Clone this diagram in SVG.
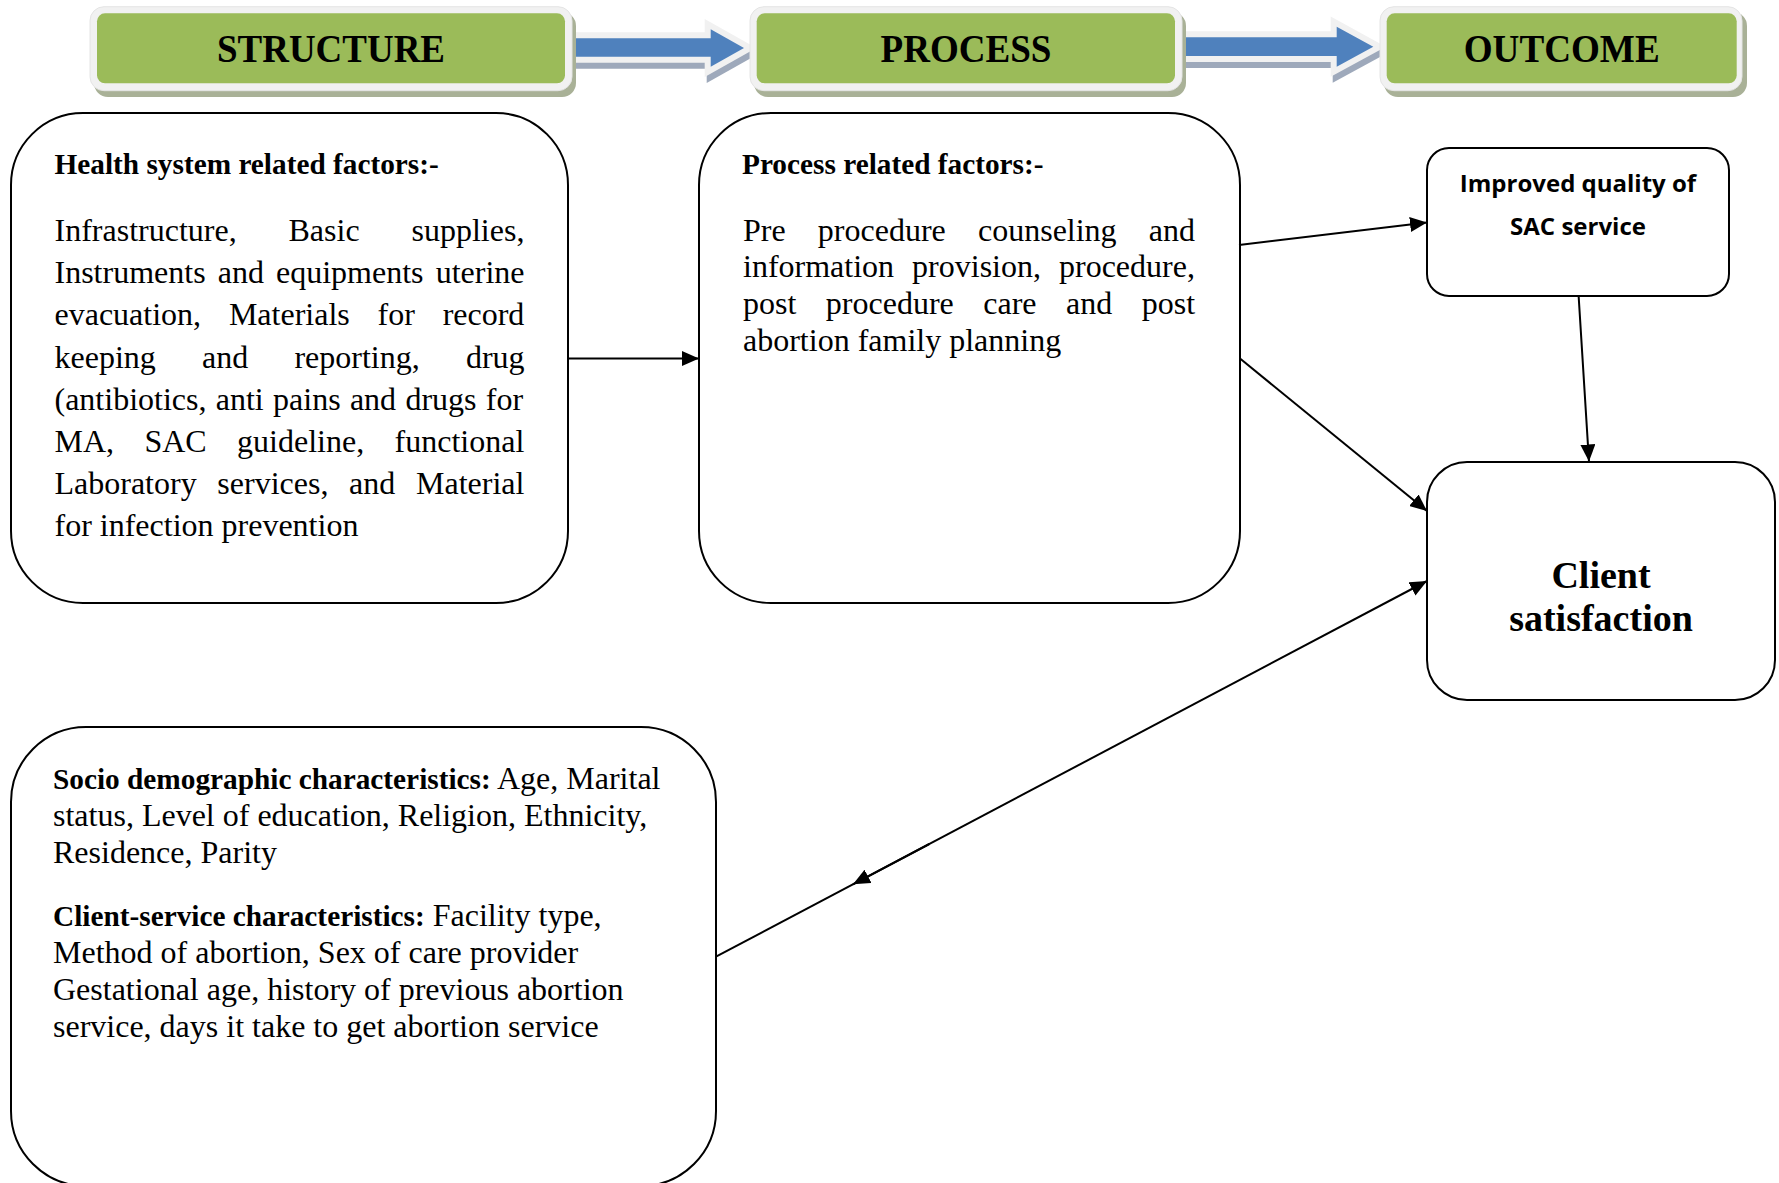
<svg xmlns="http://www.w3.org/2000/svg" width="1779" height="1183" viewBox="0 0 1779 1183">
<style>
.box{fill:#fff;stroke:#000;stroke-width:2}
.hdr-shadow{fill:#a9b197}
.hdr-frame{fill:#f1f1f1;stroke:#e4e4e4;stroke-width:1}
.hdr-fill{fill:#9bbb59}
.hdr-text{font-family:"Liberation Serif","Times New Roman",serif;font-weight:bold;font-size:40px;fill:#000;text-anchor:middle}
.bold{font-family:"Liberation Serif","Times New Roman",serif;font-weight:bold;font-size:29.3px;fill:#000}
.body{font-family:"Liberation Serif","Times New Roman",serif;font-size:32px;fill:#000}
.sans{font-family:"Open Sans","Noto Sans",sans-serif;font-weight:bold;font-size:24px;fill:#000;text-anchor:middle}
.big{font-family:"Liberation Serif","Times New Roman",serif;font-weight:bold;font-size:38px;fill:#000;text-anchor:middle}
.conn{stroke:#000;stroke-width:2;fill:none}
.blk-shadow{fill:#8e9bb0;stroke:#8e9bb0;stroke-width:12;stroke-linejoin:miter;stroke-miterlimit:10;opacity:0.85}
.blk-out{fill:#f1f1f1;stroke:#f1f1f1;stroke-width:12;stroke-linejoin:miter;stroke-miterlimit:10}
.blk{fill:#4f81bd}
</style>
<defs>
<marker id="ah" markerUnits="userSpaceOnUse" markerWidth="17" markerHeight="15" viewBox="0 0 17 15" refX="17" refY="7.5" orient="auto">
<path d="M0,0 L17,7.5 L0,15 z" fill="#000"/>
</marker>
</defs>

<g id="block-arrows">
<g id="block-arrow-1">
<path class="blk-shadow" transform="translate(2,6)" d="M572,38.3 H710.7 V29.3 L744,48 L710.7,66.7 V56.7 H572 Z"/>
<path class="blk-out" d="M572,38.3 H710.7 V29.3 L744,48 L710.7,66.7 V56.7 H572 Z"/>
<path class="blk" d="M572,38.3 H710.7 V29.3 L744,48 L710.7,66.7 V56.7 H572 Z"/>
</g>
<g id="block-arrow-2">
<path class="blk-shadow" transform="translate(2,6)" d="M1185,37.3 H1336.7 V26.7 L1373.3,46.7 L1336.7,66.7 V56 H1185 Z"/>
<path class="blk-out" d="M1185,37.3 H1336.7 V26.7 L1373.3,46.7 L1336.7,66.7 V56 H1185 Z"/>
<path class="blk" d="M1185,37.3 H1336.7 V26.7 L1373.3,46.7 L1336.7,66.7 V56 H1185 Z"/>
</g>
</g>

<g id="hdr-structure">
<rect class="hdr-shadow" x="94" y="12" width="482" height="85" rx="14"/>
<rect class="hdr-frame" x="90" y="6.7" width="482" height="84" rx="14"/>
<rect class="hdr-fill" x="97" y="13.3" width="468" height="70" rx="8"/>
<text class="hdr-text" x="331" y="61.7" textLength="228" lengthAdjust="spacingAndGlyphs">STRUCTURE</text>
</g>
<g id="hdr-process">
<rect class="hdr-shadow" x="754" y="12" width="432" height="85" rx="14"/>
<rect class="hdr-frame" x="750" y="6.7" width="432" height="84" rx="14"/>
<rect class="hdr-fill" x="756.7" y="13.3" width="418.3" height="70" rx="8"/>
<text class="hdr-text" x="966" y="61.7" textLength="171" lengthAdjust="spacingAndGlyphs">PROCESS</text>
</g>
<g id="hdr-outcome">
<rect class="hdr-shadow" x="1384" y="12" width="363" height="85" rx="14"/>
<rect class="hdr-frame" x="1380" y="6.7" width="362" height="84" rx="14"/>
<rect class="hdr-fill" x="1386.7" y="13.3" width="350" height="70" rx="8"/>
<text class="hdr-text" x="1561.7" y="61.7" textLength="196" lengthAdjust="spacingAndGlyphs">OUTCOME</text>
</g>

<g id="node-health-system">
<rect class="box" x="11" y="113" width="557" height="490" rx="72"/>
<text class="bold" x="54.5" y="174">Health system related factors:-</text>
<text class="body" x="54.5" y="241" word-spacing="43.9">Infrastructure, Basic supplies,</text>
<text class="body" x="54.5" y="283.2" word-spacing="4.1">Instruments and equipments uterine</text>
<text class="body" x="54.5" y="325.4" word-spacing="19.8">evacuation, Materials for record</text>
<text class="body" x="54.5" y="367.6" word-spacing="38.2">keeping and reporting, drug</text>
<text class="body" x="54.5" y="409.8" word-spacing="1.3">(antibiotics, anti pains and drugs for</text>
<text class="body" x="54.5" y="452" word-spacing="22.4">MA, SAC guideline, functional</text>
<text class="body" x="54.5" y="494.2" word-spacing="12.7">Laboratory services, and Material</text>
<text class="body" x="54.5" y="536.4">for infection prevention</text>
</g>

<g id="node-process">
<rect class="box" x="699" y="113" width="541" height="490" rx="72"/>
<text class="bold" x="742" y="174">Process related factors:-</text>
<text class="body" x="743" y="240.5" word-spacing="24.2">Pre procedure counseling and</text>
<text class="body" x="743" y="277.3" word-spacing="10">information provision, procedure,</text>
<text class="body" x="743" y="314.1" word-spacing="21.5">post procedure care and post</text>
<text class="body" x="743" y="350.9">abortion family planning</text>
</g>

<g id="node-improved">
<rect class="box" x="1427" y="148" width="302" height="148" rx="22"/>
<text class="sans" x="1578" y="192">Improved quality of</text>
<text class="sans" x="1578" y="234.5">SAC service</text>
</g>

<g id="node-client">
<rect class="box" x="1427" y="462" width="348" height="238" rx="40"/>
<text class="big" x="1601" y="587.5">Client</text>
<text class="big" x="1601" y="630.5">satisfaction</text>
</g>

<g id="node-socio">
<rect class="box" x="11" y="727" width="705" height="459" rx="75"/>
<text class="body" x="53" y="789"><tspan class="bold">Socio demographic characteristics:</tspan> Age, Marital</text>
<text class="body" x="53" y="826">status, Level of education, Religion, Ethnicity,</text>
<text class="body" x="53" y="862.5">Residence, Parity</text>
<text class="body" x="53" y="926"><tspan class="bold">Client-service characteristics:</tspan> Facility type,</text>
<text class="body" x="53" y="963">Method of abortion, Sex of care provider</text>
<text class="body" x="53" y="1000">Gestational age, history of previous abortion</text>
<text class="body" x="53" y="1037">service, days it take to get abortion service</text>
</g>

<g id="connectors">
<line class="conn" x1="568" y1="358.5" x2="699" y2="358.5" marker-end="url(#ah)"/>
<line class="conn" x1="1239" y1="245" x2="1427" y2="222.4" marker-end="url(#ah)"/>
<line class="conn" x1="1240" y1="358.5" x2="1427" y2="511" marker-end="url(#ah)"/>
<line class="conn" x1="1578.6" y1="296" x2="1589" y2="461.5" marker-end="url(#ah)"/>
<line class="conn" x1="716" y1="956.7" x2="1427" y2="581" marker-end="url(#ah)"/>
<line class="conn" x1="929.3" y1="844" x2="853" y2="884.3" marker-end="url(#ah)"/>
</g>
</svg>
